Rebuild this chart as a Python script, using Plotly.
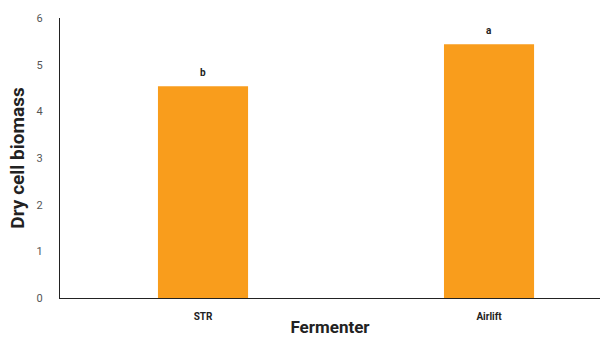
import plotly.graph_objects as go

categories = ["STR", "Airlift"]
biomass = [4.54, 5.44]
letters = ["b", "a"]
y_ticks = [0, 1, 2, 3, 4, 5, 6]

FONT = "Roboto"
COLOR = "#F99D1C"

fig = go.Figure()
fig.add_trace(go.Bar(
    x=categories, y=biomass, marker_color=COLOR, width=0.315,
    marker_line_width=0, showlegend=False, hoverinfo="skip",
))
for c, v, t in zip(categories, biomass, letters):
    fig.add_annotation(x=c, y=v, text=f"<b>{t}</b>", showarrow=False,
                       yshift=14, font=dict(family=FONT, size=10, color="#222"))

fig.update_layout(
    width=606, height=339,
    margin=dict(l=60, r=6, t=18, b=41),
    plot_bgcolor="white", paper_bgcolor="white",
    font=dict(family=FONT),
    xaxis=dict(
        range=[-0.5, 1.388], showgrid=False, showline=True, linecolor="#222",
        linewidth=1, ticks="", automargin=False, ticklabelstandoff=9,
        tickfont=dict(family=FONT, size=10, color="#222", weight="bold"),
        title=dict(text="<b>Fermenter</b>", font=dict(family=FONT, size=17, color="#222"), standoff=0),
    ),
    yaxis=dict(
        range=[0, 6], tickvals=y_ticks, showgrid=False, showline=True, linecolor="#222",
        linewidth=1, ticks="", zeroline=False, ticklabelstandoff=14, automargin=False,
        tickfont=dict(family=FONT, size=11, color="#555"),
        title=dict(text="<b>Dry cell biomass</b>", font=dict(family=FONT, size=19, color="#222"), standoff=6),
    ),
)
fig.write_html("out.html", config={"displayModeBar": False},
               post_script="document.body.style.margin='0';")
